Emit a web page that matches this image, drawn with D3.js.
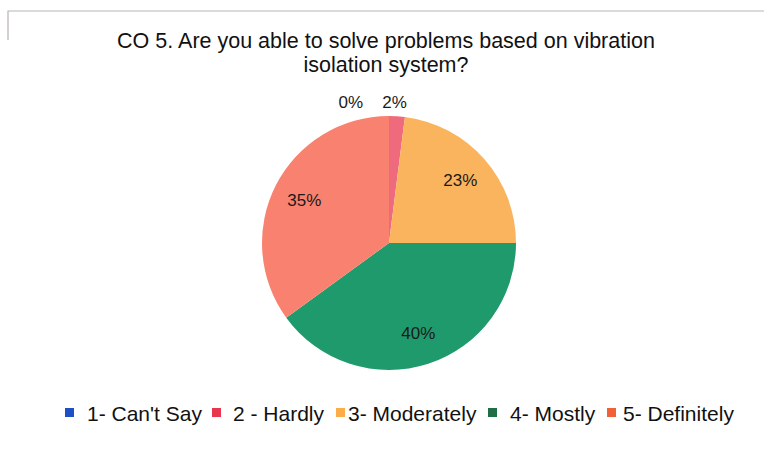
<!DOCTYPE html>
<html><head><meta charset="utf-8">
<script src="https://cdn.jsdelivr.net/npm/d3@7/dist/d3.min.js"></script>
<style>body{margin:0;background:#fff}svg{display:block}</style>
</head><body><div id="chart"></div>
<script>
const categories = ["1- Can't Say", "2 - Hardly", "3- Moderately", "4- Mostly", "5- Definitely"];
const values = [0, 2, 23, 40, 35];
const titleLines = ["CO 5. Are you able to solve problems based on vibration", "isolation system?"];
const sliceColors = ["#2050c0", "#ef6a7c", "#fbb45e", "#1f9a6c", "#f8826f"];
const legendColors = ["#1e4fc4", "#e8374d", "#fbae47", "#1f6e45", "#f2603a"];

const W = 772, H = 454;
const svg = d3.select("#chart").append("svg").attr("width", W).attr("height", H);
svg.append("rect").attr("width", W).attr("height", H).attr("fill", "#fff");
svg.append("path").attr("d", "M8,40 L8,11 L764,11").attr("fill", "none").attr("stroke", "#b9b3b3").attr("stroke-width", 1.2);

const font = "'Liberation Sans', Arial, sans-serif";
svg.append("g").selectAll("text").data(titleLines).join("text")
  .attr("x", 386).attr("y", (d, i) => 48 + i * 24)
  .attr("text-anchor", "middle").attr("font-family", font).attr("font-size", 21.5).attr("fill", "#111")
  .text(d => d);

const cx = 389, cy = 243, R = 127;
const data = categories.map((c, i) => ({ c, v: values[i], i }));
const pie = d3.pie().value(d => d.v).sort(null);
const arcs = pie(data);
const arc = d3.arc().innerRadius(0).outerRadius(R);
const g = svg.append("g").attr("transform", `translate(${cx},${cy})`);
g.selectAll("path").data(arcs).join("path")
  .attr("d", arc).attr("fill", d => sliceColors[d.data.i]).attr("stroke", "none");

const inArc = d3.arc().innerRadius(95).outerRadius(95);
const outArc = d3.arc().innerRadius(R + 10).outerRadius(R + 10);
g.selectAll("text.lbl").data(arcs).join("text").attr("class", "lbl")
  .each(function(d) {
    const small = d.data.v < 5;
    const p = small ? outArc.centroid(d) : inArc.centroid(d);
    d3.select(this)
      .attr("x", p[0] + (d.data.v === 0 ? -26 : (small ? -3 : 0)))
      .attr("y", p[1] + (small ? 2 : 6))
      .attr("text-anchor", d.data.v === 0 ? "end" : "middle");
  })
  .attr("font-family", font).attr("font-size", 17).attr("fill", "#1a1a1a")
  .text(d => d.data.v + "%");

const markerX = [65, 212, 336, 488, 607];
const textX = [87, 233, 348, 510, 623];
const lg = svg.append("g");
const items = lg.selectAll("g").data(categories).join("g");
items.append("rect").attr("x", (d, i) => markerX[i]).attr("y", 408).attr("width", 9).attr("height", 9)
  .attr("fill", (d, i) => legendColors[i]);
items.append("text").attr("x", (d, i) => textX[i]).attr("y", 421).attr("font-family", font).attr("font-size", 21).attr("fill", "#111")
  .text(d => d);
</script></body></html>
